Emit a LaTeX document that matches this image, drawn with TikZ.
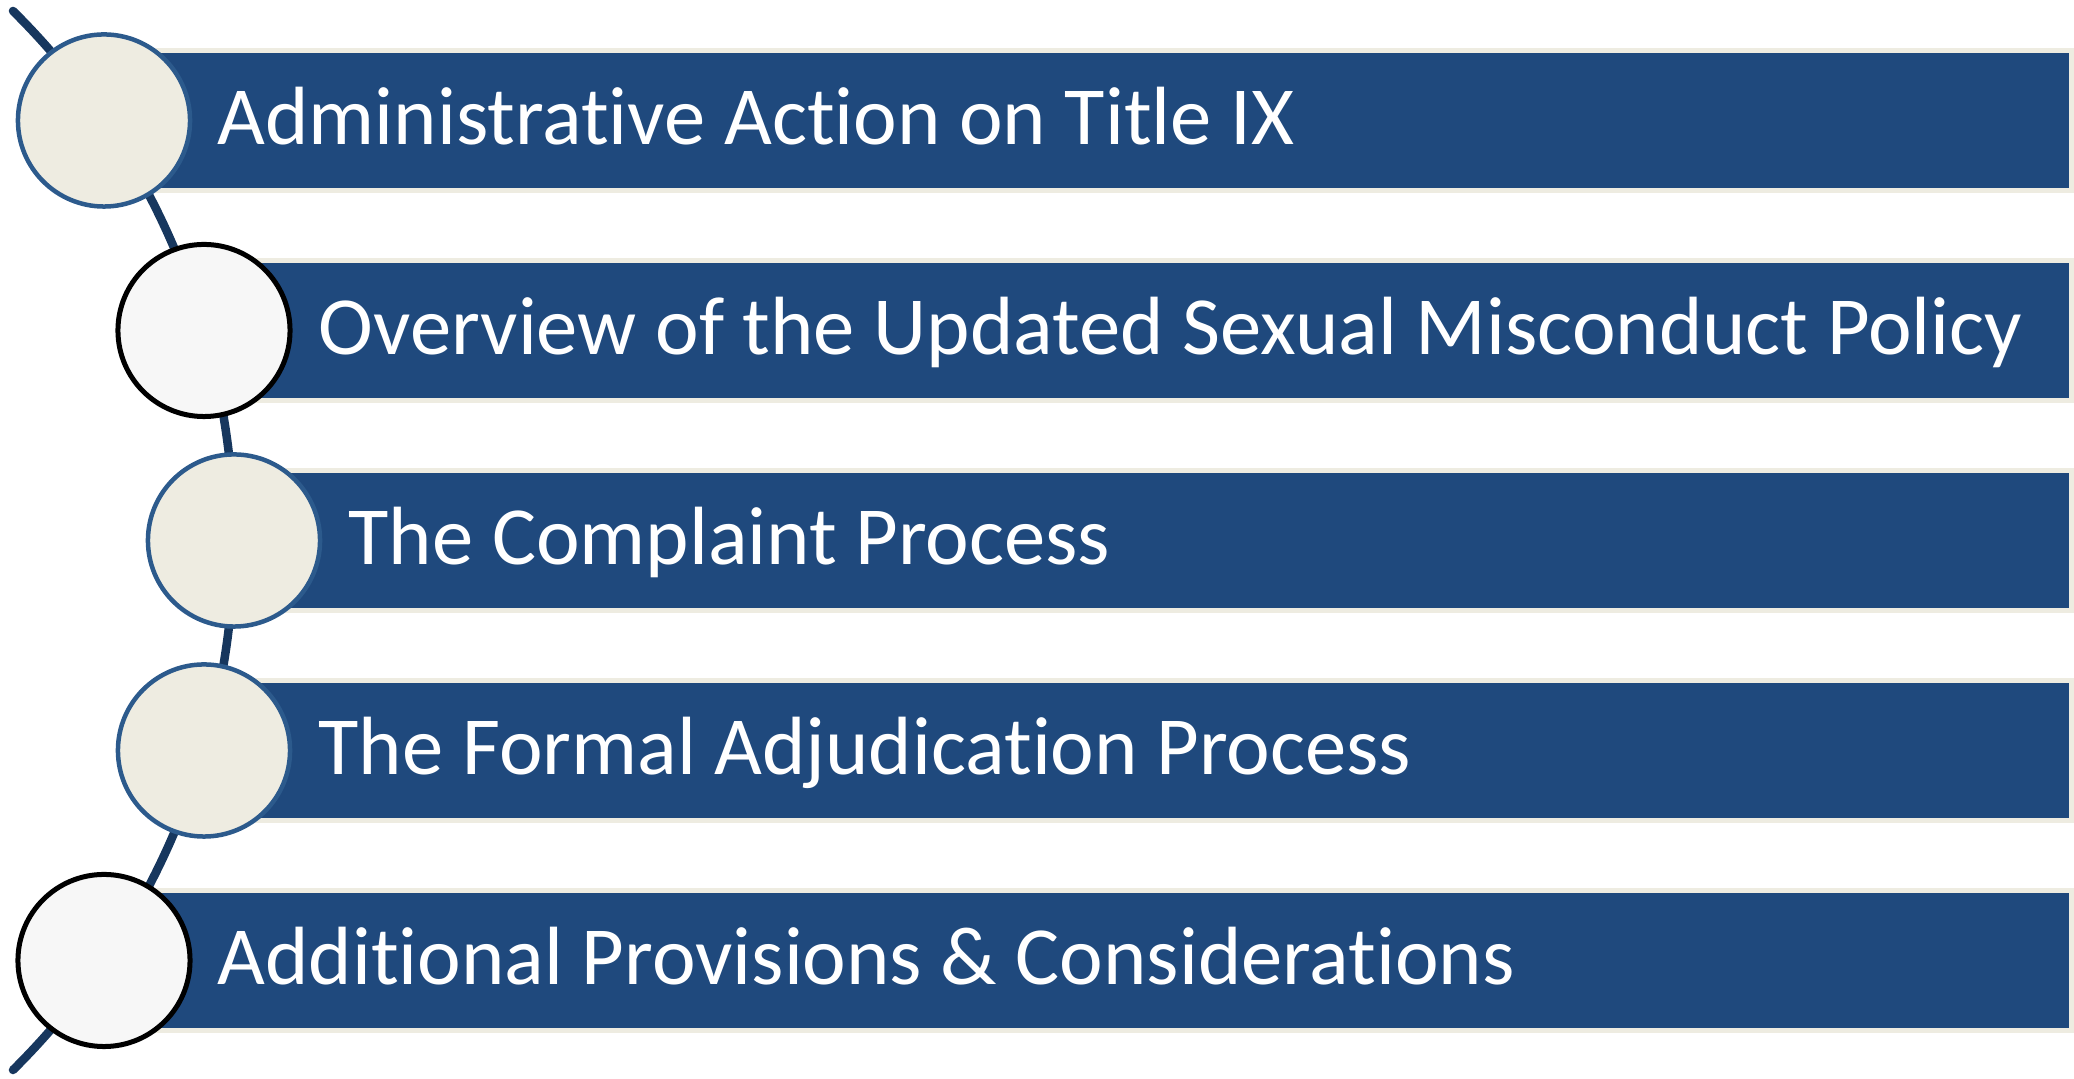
\documentclass[tikz,border=0pt]{standalone}
\usepackage{fontspec}
\setmainfont[RawFeature=-liga]{Carlito}
\usetikzlibrary{calc}
\definecolor{barblue}{HTML}{1F497D}
\definecolor{baredge}{HTML}{EEECE1}
\definecolor{arcblue}{HTML}{17375E}
\definecolor{ringblue}{HTML}{2C5A8C}
\definecolor{beigefill}{HTML}{EEECE1}
\definecolor{greyfill}{HTML}{F7F7F7}
\tikzset{
  arcline/.style={draw=arcblue, line width=0.085cm, line cap=round},
  barbox/.style={fill=barblue, draw=baredge, line width=0.05cm},
  bartext/.style={anchor=base west, inner sep=0pt, text=white, font=\fontsize{23.5pt}{28pt}\selectfont},
  dotA/.style={circle, minimum size=1.72cm, inner sep=0pt, fill=beigefill, draw=ringblue, line width=0.045cm},
  dotB/.style={circle, minimum size=1.72cm, inner sep=0pt, fill=greyfill, draw=black, line width=0.05cm}
}
\begin{document}
\begin{tikzpicture}[x=0.01cm,y=0.01cm]
\useasboundingbox (0,0) rectangle (2074,1079);
% big arc
\coordinate (arcc) at (-511,538.5);
\coordinate (arcstart) at ($(arcc)+(45.3:745)$);
\draw[arcline] (arcstart) arc[start angle=45.3, end angle=-45.3, radius=745];
% bars
\draw[barbox] (104,1028.5) rectangle (2071.5,888.5);
\draw[barbox] (204,818.5) rectangle (2071.5,678.5);
\draw[barbox] (234,608.5) rectangle (2071.5,468.5);
\draw[barbox] (204,398.5) rectangle (2071.5,258.5);
\draw[barbox] (104,188.5) rectangle (2071.5,48.5);
% texts
\node[bartext] (t1) at (217,934) {Administrative Action on Title IX};
\node[bartext] (t2) at (318,724) {Overview of the Updated Sexual Misconduct Policy};
\node[bartext] (t3) at (348,514) {The Complaint Process};
\node[bartext] (t4) at (318,304) {The Formal Adjudication Process};
\node[bartext] (t5) at (217,94) {Additional Provisions \& Considerations};
% circles
\node[dotA] (c1) at (104,958.5) {};
\node[dotB] (c2) at (204,748.5) {};
\node[dotA] (c3) at (234,538.5) {};
\node[dotA] (c4) at (204,328.5) {};
\node[dotB] (c5) at (104,118.5) {};
\end{tikzpicture}
\end{document}
